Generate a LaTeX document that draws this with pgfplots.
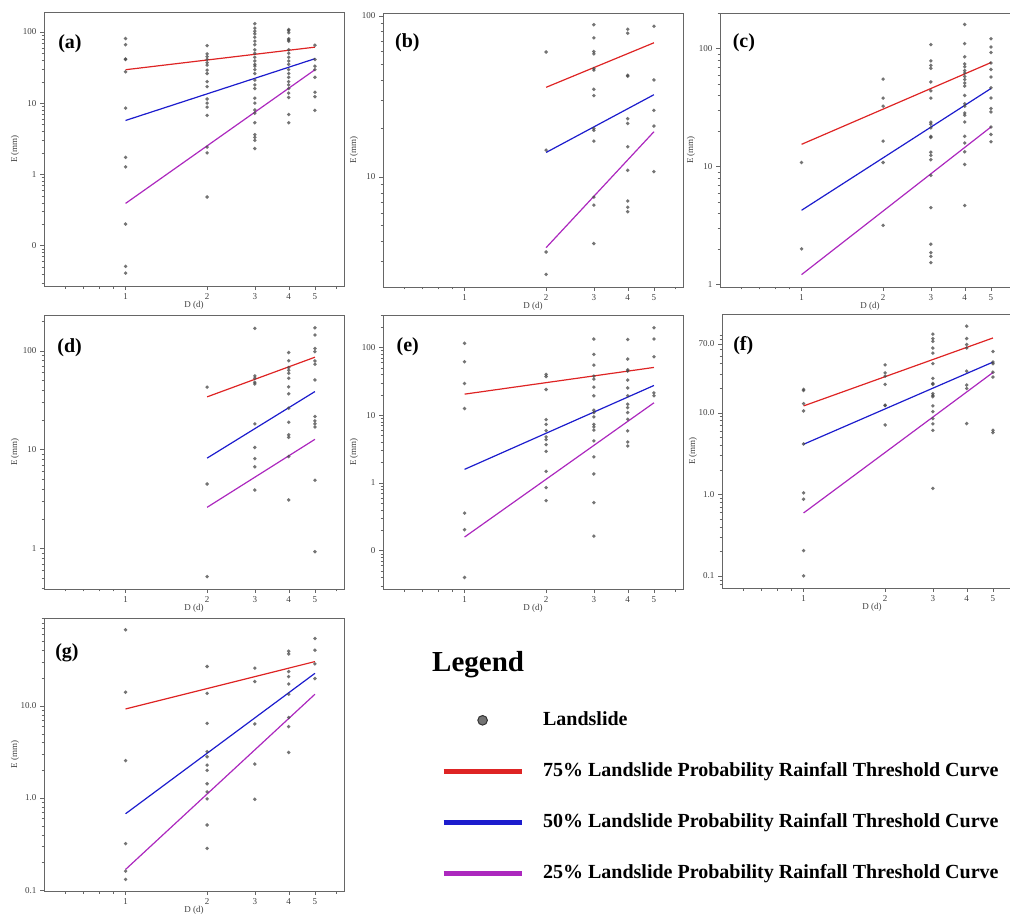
\documentclass[border=0pt]{standalone}
\usepackage{fontspec}
\setmainfont{Liberation Serif}
\usepackage{pgfplots}
\pgfplotsset{compat=1.18}

\definecolor{c75}{RGB}{222,36,36}
\definecolor{c50}{RGB}{28,28,205}
\definecolor{c25}{RGB}{172,40,190}
\definecolor{dots}{RGB}{70,70,70}

\tikzset{paneltag/.style={anchor=west, inner sep=0pt, font=\bfseries\fontsize{20}{24}\selectfont}}

\pgfplotsset{
  every axis/.append style={
    xmode=log, ymode=log, scale only axis, width=300pt, height=274pt,
    anchor=north west,
    xmin=0.5, xmax=6.4,
    xtick={1,2,3,4,5}, xticklabels={1,2,3,4,5},
    minor xtick={0.6,0.7,0.8,0.9,6},
    minor ytick={0.02,0.03,0.04,0.05,0.06,0.07,0.08,0.09,0.2,0.3,0.4,0.5,0.6,0.7,0.8,0.9,2,3,4,5,6,7,8,9,20,30,40,50,60,70,80,90,200,300},
    tick align=outside, xtick pos=bottom, ytick pos=left,
    major tick length=4pt, minor tick length=2.5pt,
    axis line style={black!60}, tick style={black!60},
    tick label style={font=\fontsize{9}{10}\selectfont, text=black!75},
    xlabel={D (d)}, ylabel={E (mm)},
    label style={font=\fontsize{9}{10}\selectfont, text=black!75},
    x label style={at={(rel axis cs:0.5,-0.069)}, anchor=center},
    y label style={at={(rel axis cs:-0.097,0.5)}, anchor=center},
  },
  /pgf/number format/assume math mode=true,
}

\begin{document}
\begin{tikzpicture}

% (a)
\begin{axis}[at={(44pt,-12pt)}, ymin=0.027, ymax=190,
  ytick={0.1,1,10,100}, yticklabels={0,1,10,100}]
\addplot[only marks, mark=*, mark size=1.9pt, color=dots, mark options={draw opacity=0, fill opacity=0.75}] coordinates {
 (1,80.5)(1,66)(1,41.6)(1,41)(1,27.5)(1,8.5)(1,1.73)(1,1.27)(1,0.20)(1,0.051)(1,0.041)
 (2,64)(2,49)(2,45)(2,41)(2,37)(2,34)(2,29)(2,26)(2,20)(2,17)(2,11.4)(2,10)(2,8.8)(2,6.7)(2,2.4)(2,2.0)(2,0.48)
 (3,130)(3,113)(3,102)(3,94)(3,84)(3,74)(3,66)(3,56)(3,50)(3,44)(3,39)(3,35)(3,33)(3,29.5)(3,26)(3,21)(3,18)(3,16)(3,11.7)(3,10)(3,8.0)(3,7.2)(3,5.3)(3,3.6)(3,3.3)(3,3.0)(3,2.3)
 (4,108)(4,104)(4,97)(4,80)(4,77)(4,74)(4,56)(4,50)(4,44)(4,39)(4,35)(4,29.5)(4,26)(4,23)(4,20)(4,18)(4,16)(4,13.8)(4,12)(4,6.9)(4,5.3)
 (5,65)(5,41)(5,33)(5,29.5)(5,23)(5,14.2)(5,12.3)(5,7.9)};
\addplot[no marks, line width=1.2pt, c75] coordinates {(1,29.4)(5,61)};
\addplot[no marks, line width=1.2pt, c50] coordinates {(1,5.7)(5,42)};
\addplot[no marks, line width=1.2pt, c25] coordinates {(1,0.39)(5,29.4)};
\node[paneltag] at (rel axis cs:0.047,0.886) {(a)};
\end{axis}

% (b)
\begin{axis}[at={(383pt,-13pt)}, ymin=2.08, ymax=104,
  ytick={10,100}, yticklabels={10,100}]
\addplot[only marks, mark=*, mark size=1.9pt, color=dots, mark options={draw opacity=0, fill opacity=0.75}] coordinates {
 (2,59.6)(2,14.7)(2,3.43)(2,2.49)
 (3,88)(3,73)(3,60)(3,58)(3,47)(3,46)(3,35)(3,32)(3,20)(3,19.5)(3,16.7)(3,7.5)(3,6.7)(3,3.87)
 (4,82.5)(4,78)(4,42.7)(4,42.2)(4,23)(4,21.5)(4,15.4)(4,11.0)(4,7.1)(4,6.5)(4,6.1)
 (5,86)(5,40)(5,25.9)(5,20.7)(5,10.8)};
\addplot[no marks, line width=1.2pt, c75] coordinates {(2,36)(5,68)};
\addplot[no marks, line width=1.2pt, c50] coordinates {(2,14.2)(5,32.4)};
\addplot[no marks, line width=1.2pt, c25] coordinates {(2,3.65)(5,19.1)};
\node[paneltag] at (rel axis cs:0.04,0.893) {(b)};
\end{axis}

% (c)
\begin{axis}[at={(720pt,-13pt)}, ymin=0.95, ymax=200,
  ytick={1,10,100}, yticklabels={1,10,100}]
\addplot[only marks, mark=*, mark size=1.9pt, color=dots, mark options={draw opacity=0, fill opacity=0.75}] coordinates {
 (1,10.8)(1,2.0)
 (2,55)(2,38)(2,32.4)(2,16.4)(2,10.8)(2,3.17)
 (3,108)(3,78.5)(3,72)(3,68)(3,52)(3,43.8)(3,38)(3,23.7)(3,22.8)(3,21.2)(3,18)(3,17.6)(3,13.2)(3,12.4)(3,11.4)(3,8.4)(3,4.47)(3,2.19)(3,1.86)(3,1.73)(3,1.53)
 (4,160)(4,110)(4,85)(4,74)(4,70)(4,65)(4,62)(4,58)(4,54.6)(4,51)(4,48)(4,40)(4,34)(4,32.4)(4,28.4)(4,27.2)(4,23.8)(4,18)(4,15.8)(4,13.3)(4,10.4)(4,4.66)
 (5,121)(5,103)(5,92.5)(5,75.5)(5,66.5)(5,57.4)(5,46.4)(5,38)(5,31)(5,29)(5,21.6)(5,18.7)(5,16.2)};
\addplot[no marks, line width=1.2pt, c75] coordinates {(1,15.4)(5,76)};
\addplot[no marks, line width=1.2pt, c50] coordinates {(1,4.25)(5,45.8)};
\addplot[no marks, line width=1.2pt, c25] coordinates {(1,1.21)(5,21.6)};
\node[paneltag] at (rel axis cs:0.042,0.893) {(c)};
\end{axis}

% (d)
\begin{axis}[at={(44pt,-315pt)}, ymin=0.39, ymax=229,
  ytick={1,10,100}, yticklabels={1,10,100}]
\addplot[only marks, mark=*, mark size=1.9pt, color=dots, mark options={draw opacity=0, fill opacity=0.75}] coordinates {
 (2,42.7)(2,4.49)(2,0.52)
 (3,168)(3,55.6)(3,52.6)(3,47.9)(3,46)(3,18.2)(3,10.5)(3,8.1)(3,6.7)(3,3.9)
 (4,95.5)(4,79)(4,67.4)(4,63.3)(4,59)(4,52.6)(4,43)(4,36.6)(4,26.2)(4,18.9)(4,14.1)(4,13.3)(4,8.5)(4,3.1)
 (5,170)(5,144)(5,105)(5,97.7)(5,78.7)(5,72.8)(5,50.6)(5,21.6)(5,19.5)(5,18.2)(5,16.9)(5,4.9)(5,0.93)};
\addplot[no marks, line width=1.2pt, c75] coordinates {(2,34.1)(5,85.8)};
\addplot[no marks, line width=1.2pt, c50] coordinates {(2,8.2)(5,38.6)};
\addplot[no marks, line width=1.2pt, c25] coordinates {(2,2.61)(5,12.7)};
\node[paneltag] at (rel axis cs:0.044,0.88) {(d)};
\end{axis}

% (e)
\begin{axis}[at={(383pt,-315pt)}, ymin=0.027, ymax=301,
  ytick={0.1,1,10,100}, yticklabels={0,1,10,100}]
\addplot[only marks, mark=*, mark size=1.9pt, color=dots, mark options={draw opacity=0, fill opacity=0.75}] coordinates {
 (1,115)(1,61.4)(1,29.3)(1,12.5)(1,0.357)(1,0.203)(1,0.040)
 (2,39.9)(2,37.2)(2,23.9)(2,8.6)(2,7.3)(2,5.9)(2,4.76)(2,4.35)(2,3.66)(2,2.92)(2,1.48)(2,0.85)(2,0.545)
 (3,133)(3,78.8)(3,54.8)(3,37.7)(3,34)(3,25.9)(3,19.3)(3,11.8)(3,10.9)(3,9.4)(3,7.3)(3,6.7)(3,6.0)(3,4.16)(3,2.41)(3,1.35)(3,0.51)(3,0.163)
 (4,131)(4,67.2)(4,46.7)(4,44.7)(4,32.9)(4,25.2)(4,19.3)(4,14.5)(4,12.9)(4,10.9)(4,8.7)(4,5.85)(4,4.0)(4,3.5)
 (5,195)(5,133)(5,72.9)(5,21.3)(5,19.3)};
\addplot[no marks, line width=1.2pt, c75] coordinates {(1,20.4)(5,50.6)};
\addplot[no marks, line width=1.2pt, c50] coordinates {(1,1.58)(5,27.4)};
\addplot[no marks, line width=1.2pt, c25] coordinates {(1,0.158)(5,15.2)};
\node[paneltag] at (rel axis cs:0.045,0.885) {(e)};
\end{axis}

% (f)
\begin{axis}[at={(722pt,-314pt)}, ymin=0.071, ymax=162,
  ytick={0.1,1,10,70}, yticklabels={0.1,1.0,10.0,70.0}]
\addplot[only marks, mark=*, mark size=1.9pt, color=dots, mark options={draw opacity=0, fill opacity=0.75}] coordinates {
 (1,19.3)(1,18.7)(1,12.9)(1,10.5)(1,4.14)(1,1.04)(1,0.87)(1,0.204)(1,0.10)
 (2,38.6)(2,30.8)(2,28.1)(2,22.2)(2,12.4)(2,12.2)(2,7.07)
 (3,92)(3,81)(3,75)(3,62)(3,53.7)(3,40)(3,26.3)(3,22.8)(3,22.2)(3,17.1)(3,16.3)(3,15.7)(3,12.1)(3,10.3)(3,8.45)(3,7.3)(3,6.08)(3,1.18)
 (4,115)(4,81)(4,68.4)(4,62)(4,32.3)(4,21.8)(4,19.8)(4,7.35)
 (5,56.2)(5,41.7)(5,39.8)(5,31.4)(5,27.3)(5,6.1)(5,5.7)};
\addplot[no marks, line width=1.2pt, c75] coordinates {(1,12.1)(5,82.4)};
\addplot[no marks, line width=1.2pt, c50] coordinates {(1,4.1)(5,41.7)};
\addplot[no marks, line width=1.2pt, c25] coordinates {(1,0.59)(5,31.1)};
\node[paneltag] at (rel axis cs:0.037,0.885) {(f)};
\end{axis}

% (g) with the legend
\begin{axis}[at={(44pt,-618pt)}, height=273pt, ymin=0.098, ymax=90,
  ytick={0.1,1,10}, yticklabels={0.1,1.0,10.0},
  legend cell align=left,
  legend style={at={(1.323,0.659)}, anchor=north west, draw=none, fill=none,
    inner sep=0pt, row sep=33pt,
    font=\bfseries\fontsize{20}{24}\selectfont,
    nodes={inner sep=0pt, text height=14pt, text depth=4pt},
    /tikz/every odd column/.append style={column sep=19pt}}]
\addplot[only marks, mark=*, mark size=1.9pt, color=dots, mark options={draw opacity=0, fill opacity=0.75},
  legend image code/.code={\filldraw[fill=black!55, draw=black!80, line width=1pt] (39pt,0pt) circle (4.8pt);}]
  coordinates {
 (1,67)(1,14.1)(1,2.55)(1,0.32)(1,0.161)(1,0.131)
 (2,26.8)(2,13.7)(2,6.46)(2,3.19)(2,2.81)(2,2.28)(2,2.0)(2,1.43)(2,1.17)(2,0.98)(2,0.51)(2,0.284)
 (3,25.7)(3,18.4)(3,6.37)(3,2.34)(3,0.97)
 (4,39.3)(4,36.7)(4,23.6)(4,20.8)(4,17.3)(4,13.4)(4,7.5)(4,5.96)(4,3.13)
 (5,54)(5,40.3)(5,28.6)(5,19.8)};
\addlegendentry{Landslide}
\addplot[no marks, line width=1.2pt, c75, legend image code/.code={\draw[c75, line width=5pt] (0pt,0pt) -- (78pt,0pt);}]
  coordinates {(1,9.27)(5,30.3)};
\addlegendentry{75\% Landslide Probability Rainfall Threshold Curve}
\addplot[no marks, line width=1.2pt, c50, legend image code/.code={\draw[c50, line width=5pt] (0pt,0pt) -- (78pt,0pt);}]
  coordinates {(1,0.676)(5,22.6)};
\addlegendentry{50\% Landslide Probability Rainfall Threshold Curve}
\addplot[no marks, line width=1.2pt, c25, legend image code/.code={\draw[c25, line width=5pt] (0pt,0pt) -- (78pt,0pt);}]
  coordinates {(1,0.168)(5,13.4)};
\addlegendentry{25\% Landslide Probability Rainfall Threshold Curve}
\node[paneltag] at (rel axis cs:0.037,0.872) {(g)};
\end{axis}

\node[anchor=west, inner sep=0pt, font=\bfseries\fontsize{29}{32}\selectfont]
  at (432pt,-665pt) {Legend};

\pgfresetboundingbox
\useasboundingbox (0pt,0pt) rectangle (1010pt,-916pt);
\end{tikzpicture}
\end{document}
